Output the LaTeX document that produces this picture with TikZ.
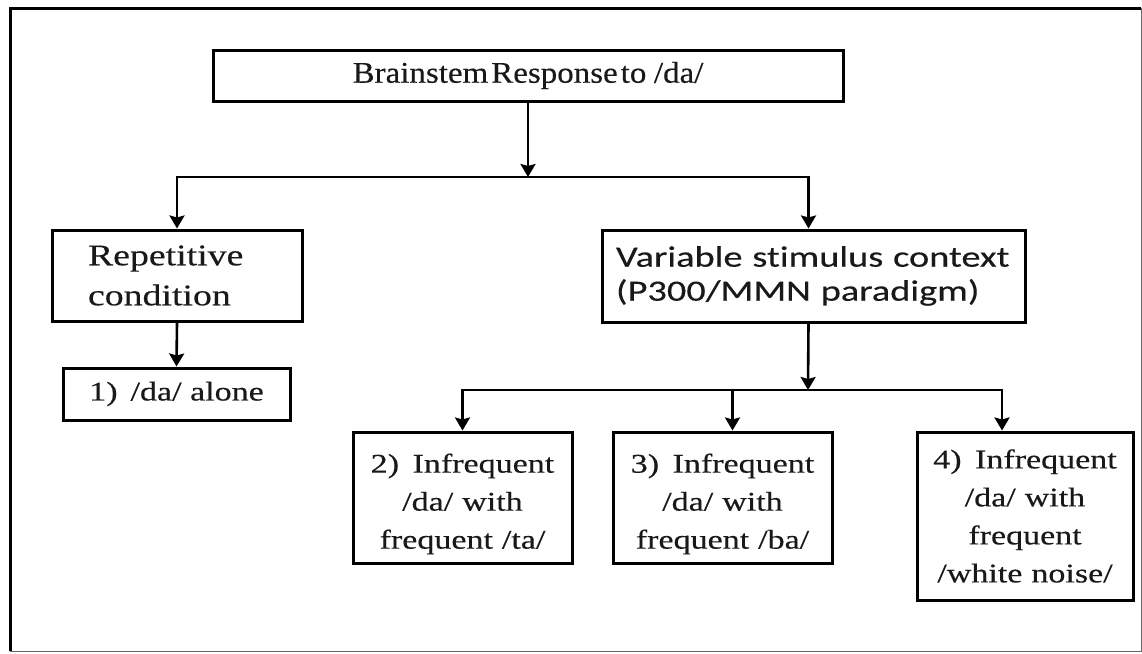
\documentclass[tikz,border=0pt]{standalone}
\usepackage{fontspec}
\setmainfont[FakeStretch=1.26,FakeBold=0.4]{Liberation Serif}
\newfontfamily\headserif[FakeStretch=1.1,FakeBold=0.4]{Liberation Serif}
\newfontfamily\boxsans[FakeStretch=1.3,FakeBold=0.3,Ligatures=NoCommon]{Carlito}
\usetikzlibrary{arrows.meta}
\usetikzlibrary{positioning}
\tikzset{x=1pt, y=-1pt, % one unit is one pixel of the picture
block/.style={ % Sets the properties for each box
draw,
line width=3pt,
inner sep=0pt,
text=black!90},
link/.style={ % Sets the properties for each arrow
draw,
line width=2.6pt,
-{Stealth[length=13pt,width=15pt,inset=2pt]}}}

\begin{document}
\begin{tikzpicture}
    \useasboundingbox (0,0) rectangle (1142,653);
    % outer frame
    \draw[line width=3pt] (10,651) -- (10,8) -- (1141,8);
    \draw[line width=0.8pt, black!60] (1141,8) -- (1141,651) -- (10,651);
    % boxes
    \node[block, minimum width=630, minimum height=51,
          font=\headserif\fontsize{30}{36}\selectfont] (resp) at (528,75.5) {\spaceskip=0.1em\relax Brainstem Response to\hspace{0.25em}/da/};
    \node[block, text width=178, inner xsep=36, minimum height=91, align=left,
          font=\fontsize{30}{40}\selectfont] (rep) at (177,275.5) {Repetitive\\condition};
    \node[block, text width=395, inner xsep=14, minimum height=92, align=left,
          font=\boxsans\fontsize{29.5}{34}\selectfont] (var) at (813.5,276) {Variable stimulus context\\(P300/MMN paradigm)};
    \node[block, minimum width=227, minimum height=52,
          font=\fontsize{27}{36}\selectfont] (one) at (176.5,394) {1)\, /da/ alone};
    \node[block, text width=219, minimum height=131, align=center,
          font=\fontsize{27}{38}\selectfont] (two) at (462.5,497.5) {\rule{0pt}{32pt}2)\, Infrequent\\/da/ with\\frequent /ta/};
    \node[block, text width=219, minimum height=131, align=center,
          font=\fontsize{27}{38}\selectfont] (three) at (722.5,497.5) {\rule{0pt}{32pt}3)\, Infrequent\\/da/ with\\frequent /ba/};
    \node[block, text width=216, minimum height=168, align=center,
          font=\fontsize{27}{38}\selectfont] (four) at (1025,516) {4)\, Infrequent\\/da/ with\\frequent\\/white noise/};
    % connectors
    \coordinate (split) at (528,177);
    \coordinate (splitb) at (808,390);
    \draw[link] (resp.south) -- (split);
    \draw[link] (split) -| (rep.north);
    \draw[link] (split) -| ([xshift=-5]var.north);
    \draw[link] (rep.south) -- (one.north);
    \draw[link] ([xshift=-5]var.south) -- (splitb);
    \draw[link] (splitb) -| (two.north);
    \draw[link] (splitb) -| ([xshift=10]three.north);
    \draw[link] (splitb) -| ([xshift=-23]four.north);
\end{tikzpicture}
\end{document}
